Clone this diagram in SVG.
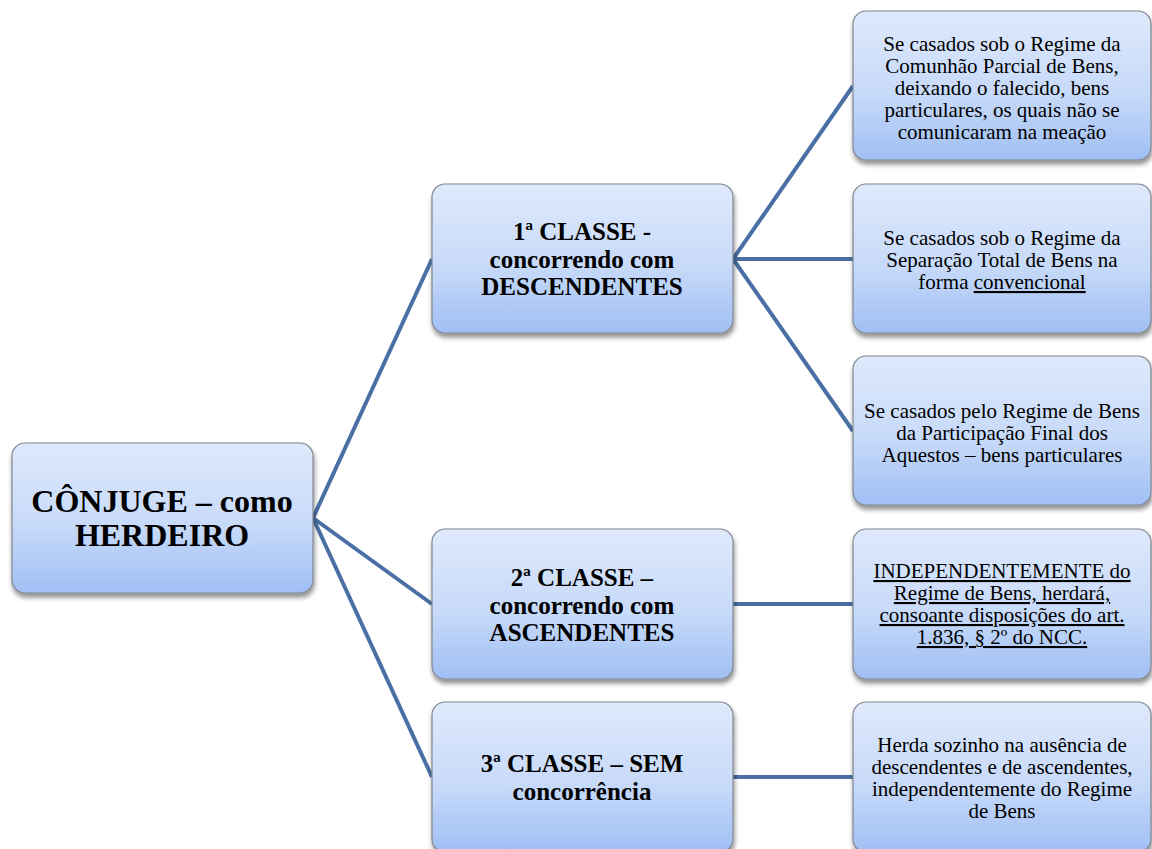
<svg xmlns="http://www.w3.org/2000/svg" width="1152" height="849" viewBox="0 0 1152 849">
  <defs>
    <linearGradient id="boxFill" x1="0" y1="0" x2="0" y2="1">
      <stop offset="0" stop-color="#dfe9fc"/>
      <stop offset="0.55" stop-color="#c7daf9"/>
      <stop offset="1" stop-color="#a0bff4"/>
    </linearGradient>
    <filter id="shadow" x="-10%" y="-10%" width="120%" height="125%">
      <feGaussianBlur in="SourceAlpha" stdDeviation="2.5"/>
      <feOffset dx="1" dy="4" result="b"/>
      <feComponentTransfer><feFuncA type="linear" slope="0.45"/></feComponentTransfer>
      <feMerge><feMergeNode/><feMergeNode in="SourceGraphic"/></feMerge>
    </filter>
  </defs>
  <style>
    .box { fill: url(#boxFill); stroke: #80868f; stroke-width: 1.2; filter: url(#shadow); }
    .link { stroke: #4a6fa5; stroke-width: 4; fill: none; }
    .t { fill: #000; text-anchor: middle; }
    .root { font-size: 32px; font-weight: bold; }
    .lvl { font-size: 25px; font-weight: bold; }
    .leaf { font-size: 21px; }
    .u { text-decoration: underline; }
  </style>
  <rect width="1152" height="849" fill="#ffffff"/>

  <!-- connectors -->
  <g id="connectors">
    <line class="link" x1="313" y1="518" x2="432" y2="259"/>
    <line class="link" x1="313" y1="518" x2="432" y2="604"/>
    <line class="link" x1="313" y1="518" x2="432" y2="777"/>
    <line class="link" x1="733" y1="259" x2="853" y2="86"/>
    <line class="link" x1="733" y1="259" x2="853" y2="259"/>
    <line class="link" x1="733" y1="259" x2="853" y2="431"/>
    <line class="link" x1="733" y1="604" x2="853" y2="604"/>
    <line class="link" x1="733" y1="777" x2="853" y2="777"/>
  </g>

  <g font-family="Liberation Serif">
  <!-- root -->
  <g id="node-conjuge">
    <rect class="box" x="12" y="443" width="301" height="150" rx="13"/>
    <text class="t root" font-family="Liberation Serif" x="162" y="512">CÔNJUGE – como</text>
    <text class="t root" font-family="Liberation Serif" x="162" y="546">HERDEIRO</text>
  </g>

  <!-- classes -->
  <g id="node-classe1">
    <rect class="box" x="432" y="184" width="301" height="149" rx="13"/>
    <text class="t lvl" font-family="Liberation Serif" x="582" y="240">1ª CLASSE -</text>
    <text class="t lvl" font-family="Liberation Serif" x="582" y="268">concorrendo com</text>
    <text class="t lvl" font-family="Liberation Serif" x="582" y="295">DESCENDENTES</text>
  </g>
  <g id="node-classe2">
    <rect class="box" x="432" y="529" width="301" height="150" rx="13"/>
    <text class="t lvl" font-family="Liberation Serif" x="582" y="586">2ª CLASSE –</text>
    <text class="t lvl" font-family="Liberation Serif" x="582" y="614">concorrendo com</text>
    <text class="t lvl" font-family="Liberation Serif" x="582" y="641">ASCENDENTES</text>
  </g>
  <g id="node-classe3">
    <rect class="box" x="432" y="702" width="301" height="150" rx="13"/>
    <text class="t lvl" font-family="Liberation Serif" x="582" y="772">3ª CLASSE – SEM</text>
    <text class="t lvl" font-family="Liberation Serif" x="582" y="800">concorrência</text>
  </g>

  <!-- leaves -->
  <g id="node-comunhao-parcial">
    <rect class="box" x="853" y="11" width="298" height="149" rx="13"/>
    <text class="t leaf" font-family="Liberation Serif" x="1002" y="51">Se casados sob o Regime da</text>
    <text class="t leaf" font-family="Liberation Serif" x="1002" y="73">Comunhão Parcial de Bens,</text>
    <text class="t leaf" font-family="Liberation Serif" x="1002" y="95">deixando o falecido, bens</text>
    <text class="t leaf" font-family="Liberation Serif" x="1002" y="117">particulares, os quais não se</text>
    <text class="t leaf" font-family="Liberation Serif" x="1002" y="139">comunicaram na meação</text>
  </g>
  <g id="node-separacao-total">
    <rect class="box" x="853" y="184" width="298" height="149" rx="13"/>
    <text class="t leaf" font-family="Liberation Serif" x="1002" y="245">Se casados sob o Regime da</text>
    <text class="t leaf" font-family="Liberation Serif" x="1002" y="267">Separação Total de Bens na</text>
    <text class="t leaf" font-family="Liberation Serif" x="1002" y="289">forma <tspan class="u">convencional</tspan></text>
  </g>
  <g id="node-participacao-final">
    <rect class="box" x="853" y="356" width="298" height="149" rx="13"/>
    <text class="t leaf" font-family="Liberation Serif" x="1002" y="418">Se casados pelo Regime de Bens</text>
    <text class="t leaf" font-family="Liberation Serif" x="1002" y="440">da Participação Final dos</text>
    <text class="t leaf" font-family="Liberation Serif" x="1002" y="462">Aquestos – bens particulares</text>
  </g>
  <g id="node-independentemente">
    <rect class="box" x="853" y="529" width="298" height="150" rx="13"/>
    <text class="t leaf u" font-family="Liberation Serif" x="1002" y="578">INDEPENDENTEMENTE do</text>
    <text class="t leaf u" font-family="Liberation Serif" x="1002" y="600">Regime de Bens, herdará,</text>
    <text class="t leaf u" font-family="Liberation Serif" x="1002" y="622">consoante disposições do art.</text>
    <text class="t leaf u" font-family="Liberation Serif" x="1002" y="644">1.836, § 2º do NCC.</text>
  </g>
  <g id="node-herda-sozinho">
    <rect class="box" x="853" y="702" width="298" height="150" rx="13"/>
    <text class="t leaf" font-family="Liberation Serif" x="1002" y="752">Herda sozinho na ausência de</text>
    <text class="t leaf" font-family="Liberation Serif" x="1002" y="774">descendentes e de ascendentes,</text>
    <text class="t leaf" font-family="Liberation Serif" x="1002" y="796">independentemente do Regime</text>
    <text class="t leaf" font-family="Liberation Serif" x="1002" y="818">de Bens</text>
  </g>
  </g>
</svg>
